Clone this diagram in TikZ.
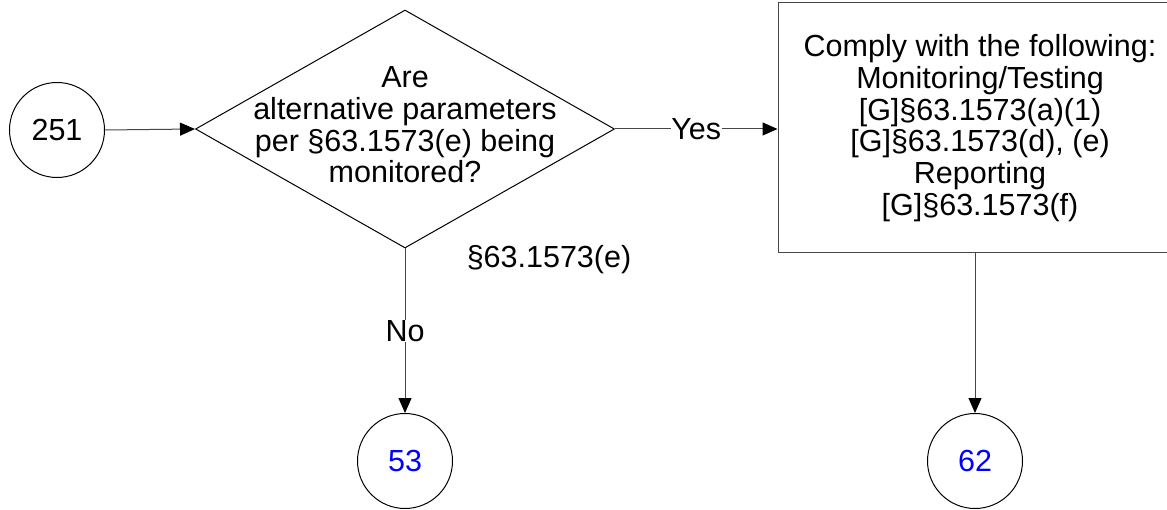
\documentclass[tikz,border=0pt]{standalone}
\usepackage{fontspec}
\setmainfont{Liberation Sans}
\usetikzlibrary{arrows.meta,shapes.geometric}
\definecolor{lnk}{RGB}{0,0,255}
\definecolor{ln}{RGB}{70,70,70}
\begin{document}
\begin{tikzpicture}[x=1pt,y=-1pt,
  every node/.style={font=\fontsize{30.5}{31.7}\selectfont},
  circ/.style={circle,draw=black,line width=1pt,minimum size=95pt,inner sep=0pt},
  arr/.style={draw=ln,-{Triangle[length=15pt,width=13pt,color=black]},line width=1pt},
  lbl/.style={fill=white,inner sep=0.5pt}]
\useasboundingbox (0,0) rectangle (1167,510);
\node[circ] (c251) at (57,130) {251};
\node[diamond,draw=black,line width=1pt,minimum width=419pt,minimum height=238pt,inner sep=0pt] (d) at (405,129) {};
\node[align=center] (dt) at (405,125) {Are\\alternative parameters\\per §63.1573(e) being\\monitored?};
\node[draw=ln,line width=1pt,minimum width=404pt,minimum height=250pt,align=center] (b) at (980,128) {Comply with the following:\\Monitoring/Testing\\{[G]}§63.1573(a)(1)\\{[G]}§63.1573(d), (e)\\Reporting\\{[G]}§63.1573(f)};
\node[circ,text=lnk] (c53) at (405,461) {53};
\node[circ,text=lnk] (c62) at (975,461) {62};
\node (ref) at (549,260) {§63.1573(e)};
\draw[arr] (c251.east) -- (d.west);
\draw[arr] (d.east) -- node[lbl] {Yes} (d.east -| b.west);
\draw[arr] (d.south) -- node[lbl] {No} (c53.north);
\draw[arr] (b.south -| c62) -- (c62.north);
\end{tikzpicture}
\end{document}
